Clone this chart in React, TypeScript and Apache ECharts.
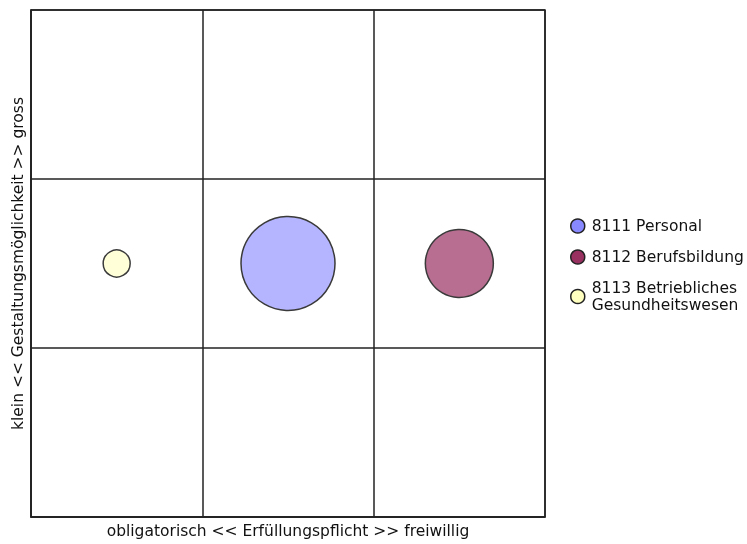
import React, { useEffect, useRef } from "react";
import * as echarts from "echarts";

const seriesNames = ["8111 Personal", "8112 Berufsbildung", "8113 Betriebliches Gesundheitswesen"];
const xValues = [1.5, 2.5, 0.5];
const yValues = [1.5, 1.5, 1.5];
const bubbleSizes = [94, 68, 27];
const bubbleColors = ["#b5b5ff", "#b86e90", "#ffffd8"];
const legendColors = ["#8888ff", "#983060", "#ffffc0"];
const xTitle = "obligatorisch << Erfüllungspflicht >> freiwillig";
const yTitle = "klein << Gestaltungsmöglichkeit >> gross";

export default function App() {
  const ref = useRef<HTMLDivElement>(null);
  useEffect(() => {
    if (!ref.current) return;
    const chart = echarts.init(ref.current, null, { renderer: "svg" });
    const font = "DejaVu Sans";
    chart.setOption({
      animation: false,
      textStyle: { fontFamily: font },
      grid: { left: 31, top: 10, right: 202, bottom: 21, show: true, borderColor: "#222", borderWidth: 1.5, backgroundColor: "transparent" },
      xAxis: {
        type: "value", min: 0, max: 3, interval: 1,
        name: xTitle, nameLocation: "middle", nameGap: 6,
        nameTextStyle: { fontSize: 15.5, color: "#111", fontFamily: font },
        axisLine: { show: true, lineStyle: { color: "#222", width: 1.5 } },
        axisTick: { show: false }, axisLabel: { show: false },
        splitLine: { show: true, lineStyle: { color: "#222", width: 1.5 } },
      },
      yAxis: {
        type: "value", min: 0, max: 3, interval: 1,
        name: yTitle, nameLocation: "middle", nameGap: 5,
        nameTextStyle: { fontSize: 15.5, color: "#111", fontFamily: font },
        axisLine: { show: true, lineStyle: { color: "#222", width: 1.5 } },
        axisTick: { show: false }, axisLabel: { show: false },
        splitLine: { show: true, lineStyle: { color: "#222", width: 1.5 } },
      },
      legend: {
        orient: "vertical", left: 565, top: 212.5,
        icon: "circle", itemWidth: 14, itemHeight: 14, itemGap: 14,
        textStyle: { fontSize: 15.5, color: "#111", fontFamily: font, lineHeight: 17, padding: [0, 0, 0, 2] },
        formatter: (n: string) => n.replace(" Gesundheitswesen", "\nGesundheitswesen"),
        data: seriesNames.map((n, i) => ({
          name: n,
          itemStyle: { color: legendColors[i], borderColor: "#222", borderWidth: 1.5 },
        })),
      },
      series: seriesNames.map((n, i) => ({
        type: "scatter",
        name: n,
        data: [[xValues[i], yValues[i], bubbleSizes[i]]],
        symbolSize: (v: number[]) => v[2],
        itemStyle: { color: bubbleColors[i], borderColor: "#3a3a3a", borderWidth: 1.5, opacity: 1 },
      })),
    });
    return () => chart.dispose();
  }, []);
  return <div ref={ref} style={{ position: "fixed", left: 0, top: 0, width: 747, height: 544 }} />;
}
